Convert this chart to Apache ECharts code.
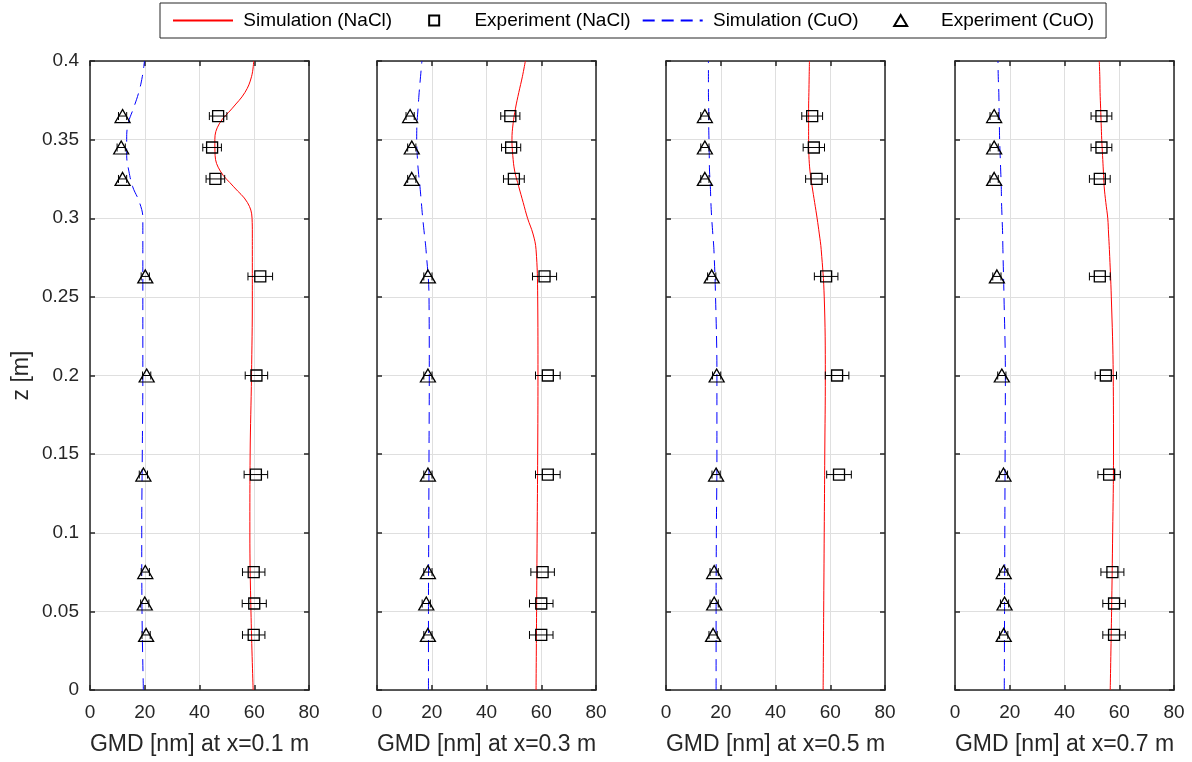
<!DOCTYPE html>
<html>
<head>
<meta charset="utf-8">
<script src="https://cdn.jsdelivr.net/npm/echarts@6/dist/echarts.min.js"></script>
<style>
  html, body { margin: 0; padding: 0; background: #fff; }
  #chart { width: 1192px; height: 762px; }
</style>
</head>
<body>
<div id="chart"></div>
<script>

// height above the floor [m]
var simZ = [0, 0.05, 0.1, 0.15, 0.2, 0.25, 0.28, 0.29, 0.3, 0.31, 0.32, 0.33, 0.34, 0.35, 0.36, 0.37, 0.38, 0.39, 0.4];
var expZ = [0.035, 0.055, 0.075, 0.137, 0.2, 0.263, 0.325, 0.345, 0.365];

var positions = ['0.1', '0.3', '0.5', '0.7'];

// simulated GMD [nm], one array per x position
var simNaCl = [
	[59.6, 58.8, 58.4, 58.5, 59.0, 59.3, 59.3, 59.3, 59.2, 57.5, 52.5, 47.6, 45.7, 45.6, 47.2, 52.0, 56.6, 59.0, 59.8],
	[58.1, 58.3, 58.5, 58.7, 58.8, 58.7, 58.1, 57.0, 55.0, 53.4, 51.8, 50.3, 49.6, 49.3, 49.7, 50.6, 51.8, 53.1, 54.2],
	[57.4, 57.6, 57.8, 58.0, 58.2, 57.8, 56.7, 56.0, 55.2, 54.3, 53.4, 52.6, 52.2, 52.1, 52.1, 52.1, 52.2, 52.3, 52.4],
	[56.7, 57.2, 57.6, 57.9, 57.8, 57.1, 56.4, 56.1, 55.8, 55.1, 54.5, 54.2, 53.9, 53.6, 53.4, 53.2, 53.0, 52.9, 52.7]
];
var simCuO = [
	[19.5, 19.0, 18.9, 19.1, 19.3, 19.3, 19.3, 19.3, 19.3, 18.1, 15.6, 14.2, 13.4, 13.4, 13.9, 15.9, 17.8, 19.1, 19.9],
	[18.8, 18.8, 18.9, 19.0, 19.1, 19.0, 17.9, 17.3, 16.7, 16.2, 15.7, 15.1, 14.7, 14.5, 14.6, 15.0, 15.4, 15.9, 16.4],
	[18.3, 18.3, 18.4, 18.6, 18.6, 18.1, 17.5, 17.1, 16.7, 16.4, 16.2, 15.9, 15.8, 15.7, 15.6, 15.6, 15.5, 15.5, 15.5],
	[18.0, 18.1, 18.2, 18.3, 18.4, 17.9, 17.5, 17.4, 17.2, 17.0, 16.9, 16.7, 16.5, 16.3, 16.2, 16.1, 16.0, 15.8, 15.7]
];

// measured GMD [nm] and error (+/-)
var expNaCl = [
	[59.8, 60.0, 59.8, 60.6, 60.8, 62.2, 45.8, 44.6, 46.8],
	[60.0, 60.0, 60.5, 62.4, 62.4, 61.2, 50.0, 49.0, 48.7],
	[null, null, null, 63.2, 62.5, 58.5, 55.0, 54.0, 53.4],
	[58.1, 58.1, 57.5, 56.3, 55.1, 52.9, 52.9, 53.5, 53.5]
];
var errNaCl = [
	[4.1, 4.4, 4.1, 4.3, 4.1, 4.5, 3.4, 3.4, 3.2],
	[4.3, 4.3, 4.3, 4.5, 4.5, 4.4, 3.8, 3.5, 3.5],
	[0, 0, 0, 4.5, 4.3, 4.3, 4.0, 3.9, 3.8],
	[4.1, 4.1, 4.2, 4.1, 3.9, 3.8, 3.8, 3.8, 3.8]
];
var expCuO = [
	[20.5, 20.0, 20.2, 19.5, 20.7, 20.2, 11.9, 11.4, 11.9],
	[18.6, 18.0, 18.6, 18.6, 18.6, 18.6, 12.7, 12.7, 12.1],
	[17.2, 17.6, 17.6, 18.3, 18.5, 16.7, 14.2, 14.2, 14.2],
	[17.8, 18.1, 17.8, 17.7, 17.1, 15.3, 14.3, 14.3, 14.3]
];
var errCuO = [
	[1.5, 1.5, 1.5, 1.5, 1.5, 1.5, 1.5, 1.5, 1.5],
	[1.5, 1.5, 1.5, 1.5, 1.5, 1.5, 1.5, 1.5, 1.5],
	[1.5, 1.5, 1.5, 1.5, 1.5, 1.5, 1.5, 1.5, 1.5],
	[1.5, 1.5, 1.5, 1.5, 1.5, 1.5, 1.5, 1.5, 1.5]
];

var gridLeft = [90, 377, 666, 955];
var axisColor = '#262626';
var fontName = 'Liberation Sans';

function errRender(params, api) {
	var x = api.value(0), z = api.value(1), e = api.value(2);
	var a = api.coord([x - e, z]);
	var b = api.coord([x + e, z]);
	var h = 4;
	var st = { stroke: '#000', lineWidth: 1 };
	return {
		type: 'group',
		children: [
			{ type: 'line', shape: { x1: a[0], y1: a[1], x2: b[0], y2: b[1] }, style: st },
			{ type: 'line', shape: { x1: a[0], y1: a[1] - h, x2: a[0], y2: a[1] + h }, style: st },
			{ type: 'line', shape: { x1: b[0], y1: b[1] - h, x2: b[0], y2: b[1] + h }, style: st }
		]
	};
}

function pairs(vals, zs) {
	return zs.map(function (z, k) { return [vals[k], z]; });
}

function triples(vals, errs, zs) {
	var out = [];
	zs.forEach(function (z, k) {
		if (vals[k] != null) out.push([vals[k], z, errs[k]]);
	});
	return out;
}

var grids = [], xAxes = [], yAxes = [], series = [];

for (var i = 0; i < 4; i++) {
	grids.push({ left: gridLeft[i], top: 61, width: 219, height: 629 });

	xAxes.push({
		type: 'value', gridIndex: i, min: 0, max: 80, interval: 20,
		name: 'GMD [nm] at x=' + positions[i] + ' m',
		nameLocation: 'middle', nameGap: 43,
		nameTextStyle: { fontSize: 23, color: axisColor, fontFamily: fontName },
		axisLine: { onZero: false, lineStyle: { color: axisColor, width: 1.5 } },
		axisTick: { inside: true, length: 5, lineStyle: { color: axisColor, width: 1.5 } },
		axisLabel: { fontSize: 19, color: axisColor, fontFamily: fontName, margin: 13 },
		splitLine: { show: true, lineStyle: { color: '#dfdfdf', width: 1 } }
	});
	yAxes.push({
		type: 'value', gridIndex: i, min: 0, max: 0.4, interval: 0.05,
		name: i === 0 ? 'z [m]' : '',
		nameLocation: 'middle', nameGap: 57,
		nameTextStyle: { fontSize: 23, color: axisColor, fontFamily: fontName },
		axisLine: { onZero: false, lineStyle: { color: axisColor, width: 1.5 } },
		axisTick: { inside: true, length: 5, lineStyle: { color: axisColor, width: 1.5 } },
		axisLabel: { show: i === 0, fontSize: 19, color: axisColor, fontFamily: fontName, margin: 11 },
		splitLine: { show: true, lineStyle: { color: '#dfdfdf', width: 1 } }
	});
}
// box: top and right axes with ticks only
for (var j = 0; j < 4; j++) {
	xAxes.push({
		type: 'value', gridIndex: j, position: 'top', min: 0, max: 80, interval: 20,
		axisLine: { onZero: false, lineStyle: { color: axisColor, width: 1.5 } },
		axisTick: { inside: true, length: 5, lineStyle: { color: axisColor, width: 1.5 } },
		axisLabel: { show: false }, splitLine: { show: false }
	});
	yAxes.push({
		type: 'value', gridIndex: j, position: 'right', min: 0, max: 0.4, interval: 0.05,
		axisLine: { onZero: false, lineStyle: { color: axisColor, width: 1.5 } },
		axisTick: { inside: true, length: 5, lineStyle: { color: axisColor, width: 1.5 } },
		axisLabel: { show: false }, splitLine: { show: false }
	});
}

for (var k = 0; k < 4; k++) {
	series.push({
		name: 'Simulation (NaCl)', type: 'line', xAxisIndex: k, yAxisIndex: k,
		data: pairs(simNaCl[k], simZ), smooth: 0.4, symbol: 'none',
		lineStyle: { color: '#ff0000', width: 1 }, itemStyle: { color: '#ff0000' }, z: 3
	});
	series.push({
		name: 'Simulation (CuO)', type: 'line', xAxisIndex: k, yAxisIndex: k,
		data: pairs(simCuO[k], simZ), smooth: 0.4, symbol: 'none',
		lineStyle: { color: '#0000ff', width: 1, type: [12, 7] }, itemStyle: { color: '#0000ff' }, z: 3
	});
	series.push({
		type: 'custom', xAxisIndex: k, yAxisIndex: k, renderItem: errRender,
		encode: { x: 0, y: 1 }, data: triples(expNaCl[k], errNaCl[k], expZ), z: 4
	});
	series.push({
		type: 'custom', xAxisIndex: k, yAxisIndex: k, renderItem: errRender,
		encode: { x: 0, y: 1 }, data: triples(expCuO[k], errCuO[k], expZ), z: 4
	});
	series.push({
		name: 'Experiment (NaCl)', type: 'scatter', xAxisIndex: k, yAxisIndex: k,
		data: triples(expNaCl[k], errNaCl[k], expZ), symbol: 'rect', symbolSize: 11,
		itemStyle: { color: 'rgba(0,0,0,0)', borderColor: '#000', borderWidth: 1.3, opacity: 1 }, z: 5
	});
	series.push({
		name: 'Experiment (CuO)', type: 'scatter', xAxisIndex: k, yAxisIndex: k,
		data: triples(expCuO[k], errCuO[k], expZ), symbol: 'triangle', symbolSize: [15, 13],
		itemStyle: { color: 'rgba(0,0,0,0)', borderColor: '#000', borderWidth: 1.3, opacity: 1 }, z: 5
	});
}

var myChart = echarts.init(document.getElementById('chart'), null, { renderer: 'canvas' });

var option = {
	animation: false,
	backgroundColor: '#ffffff',
	legend: {
		left: 160, top: 3,
		padding: [8, 12],
		itemWidth: 60, itemHeight: 11, itemGap: 11,
		symbolKeepAspect: true,
		backgroundColor: '#ffffff',
		borderColor: axisColor, borderWidth: 1,
		formatter: ' {name}',
		textStyle: { fontSize: 19, color: '#000', fontFamily: fontName },
		data: [
			{ name: 'Simulation (NaCl)', itemStyle: { opacity: 0 } },
			{ name: 'Experiment (NaCl)', icon: 'path://M0,0M60,11M25,0.5L35,0.5L35,10.5L25,10.5Z' },
			{ name: 'Simulation (CuO)', itemStyle: { opacity: 0 } },
			{ name: 'Experiment (CuO)', icon: 'path://M0,0M60,11M30,0L36.5,11L23.5,11Z' }
		]
	},
	grid: grids,
	xAxis: xAxes,
	yAxis: yAxes,
	series: series
};

myChart.setOption(option);

</script>
</body>
</html>
